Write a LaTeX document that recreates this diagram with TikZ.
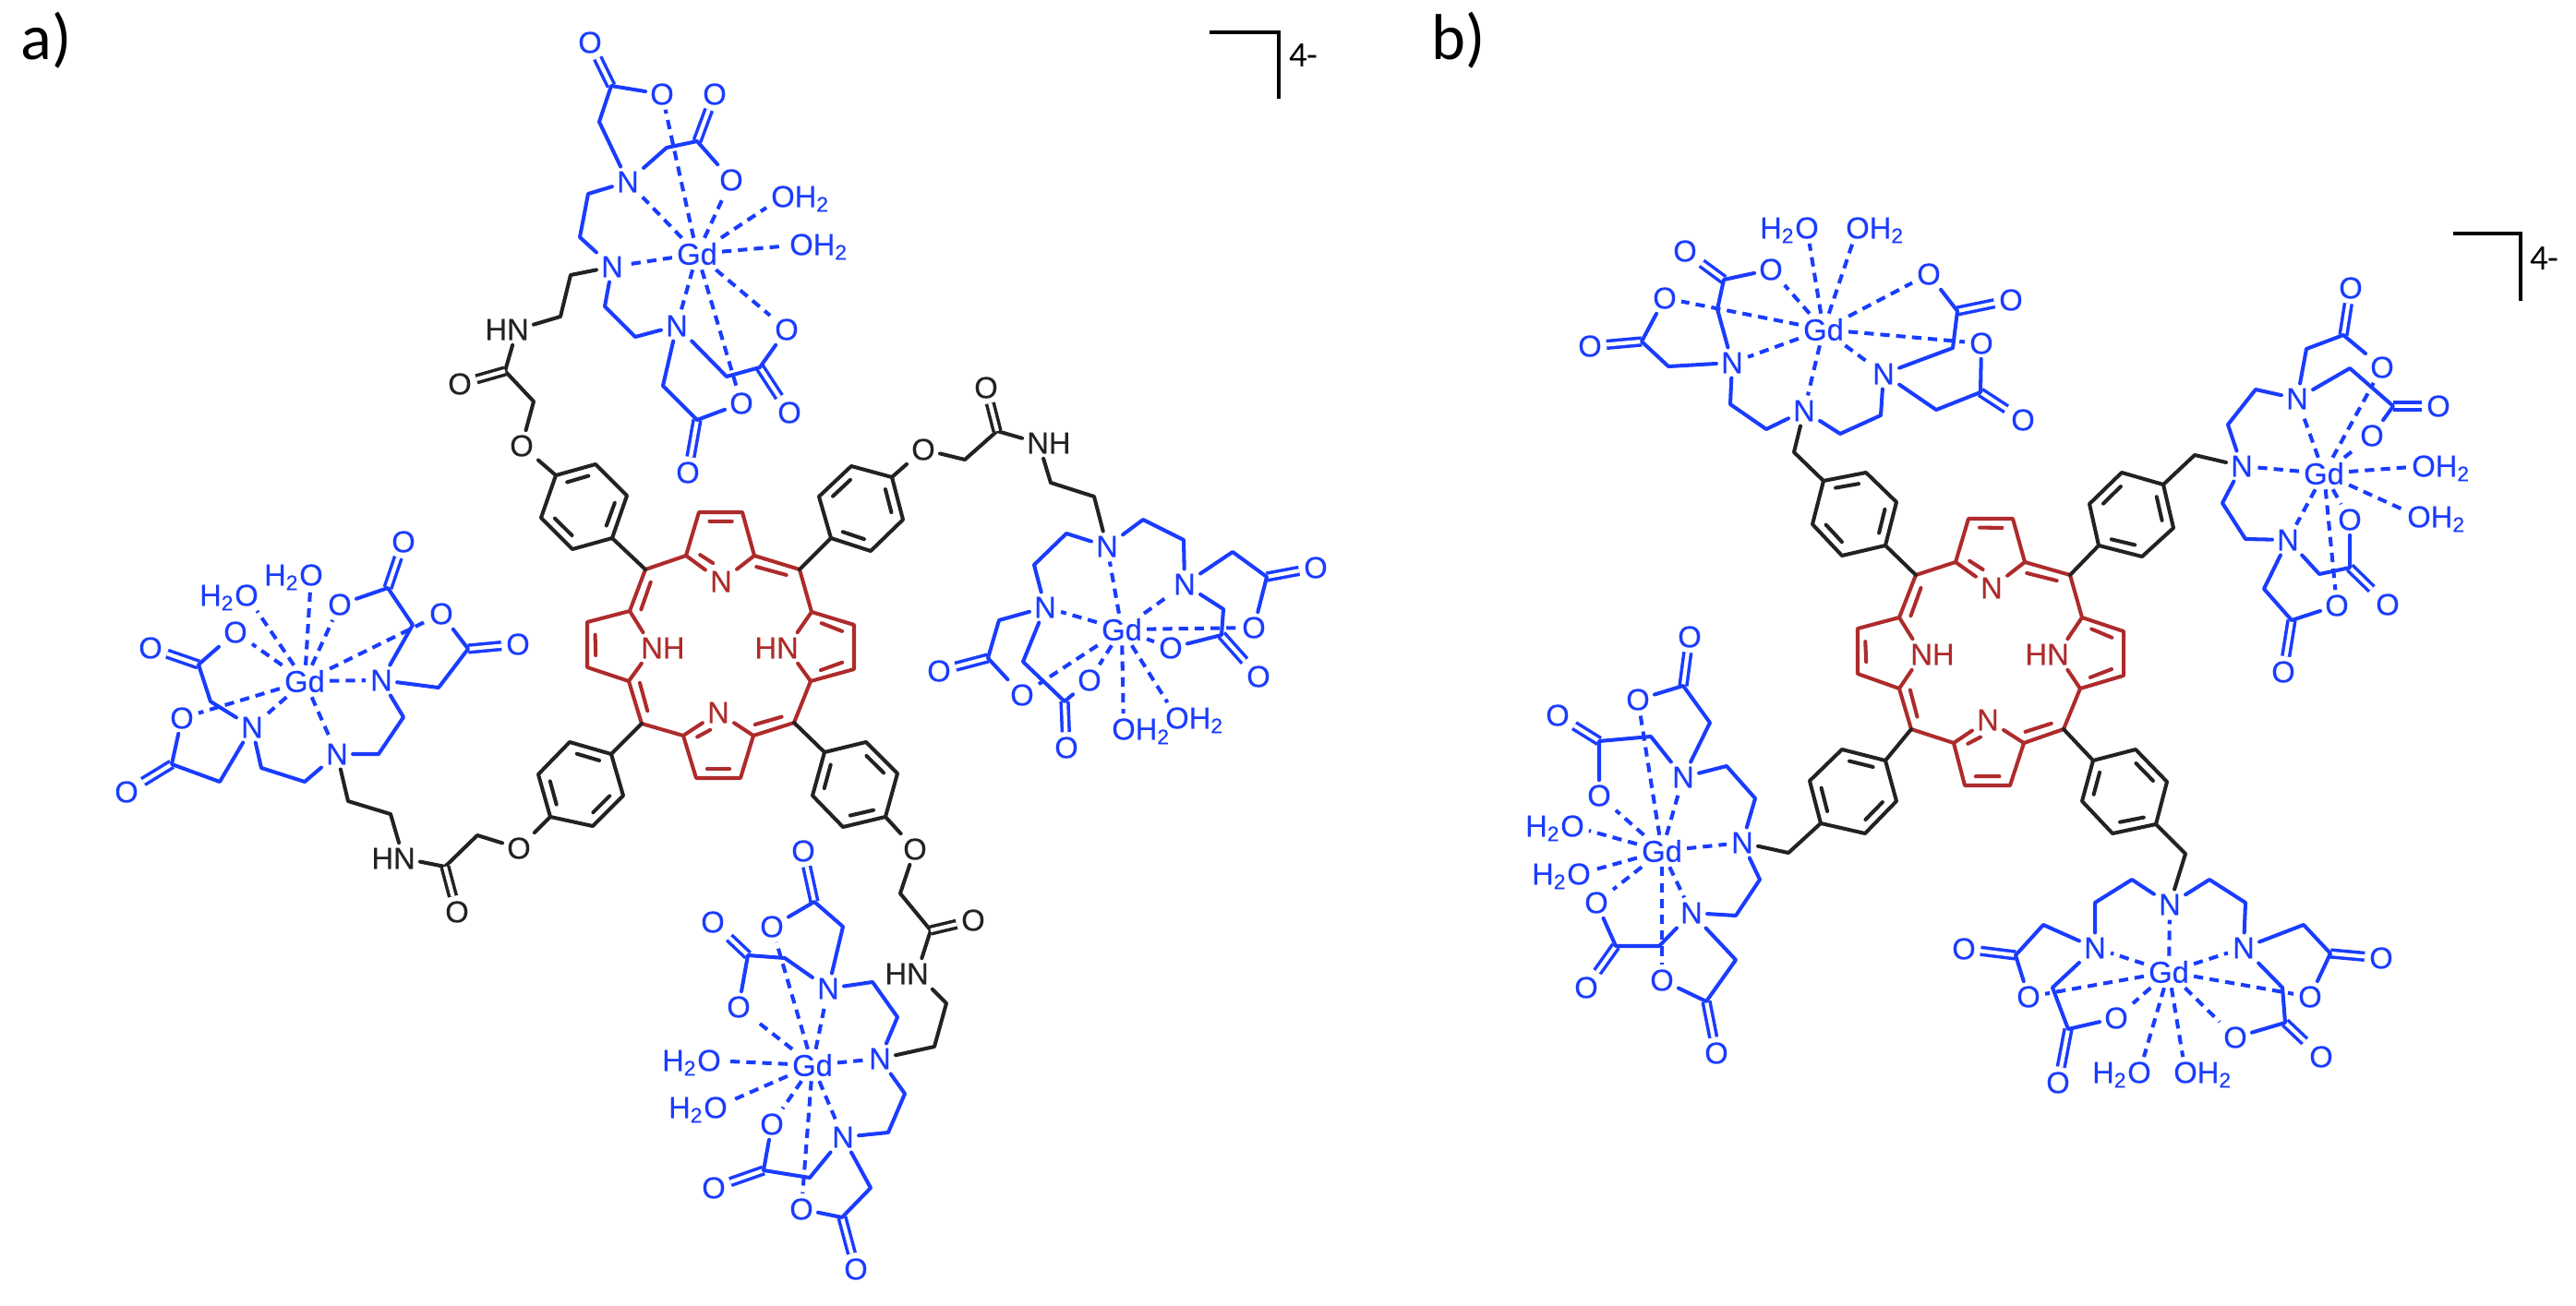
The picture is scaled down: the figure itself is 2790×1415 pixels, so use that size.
\documentclass[tikz,border=0pt]{standalone}
\usepackage{fontspec}
\setmainfont{Liberation Sans}
\newfontfamily\labfont{Carlito}
\newfontfamily\atomfont[RawFeature={embolden=0.4}]{Liberation Sans}
\usetikzlibrary{calc}
\definecolor{bl}{HTML}{1A3CFF}
\definecolor{rd}{HTML}{AE2B2B}
\definecolor{kk}{HTML}{222222}
\colorlet{cur}{bl}
\tikzset{
  atom/.style={inner sep=1.3pt,text=cur,font=\atomfont\fontsize{9.3pt}{10pt}\selectfont},
  bond/.style={draw=cur,line width=1.15pt,line join=round,line cap=round},
  dbl/.style={draw=cur,line width=1pt,double=white,double distance=1.2pt},
  dsh/.style={draw=cur,line width=1.15pt,dash pattern=on 2.9pt off 2pt},
  lab/.style={inner sep=0pt,text=black,font=\labfont\fontsize{20pt}{22pt}\selectfont},
  chg/.style={inner sep=0pt,text=black,font=\labfont\fontsize{11pt}{12pt}\selectfont},
  brk/.style={draw=black,line width=.9pt,line join=miter}
}
\newcommand\mAt[3]{\node[atom] (#1) at (#2) {#3};}
\newcommand\mRt[3]{\node[atom] (#1) at (#2) {\phantom{O}};\node[atom,anchor=base west] (#1t) at (#1.base west) {#3};}
\newcommand\mLt[3]{\node[atom] (#1) at (#2) {\phantom{O}};\node[atom,anchor=base east] (#1t) at (#1.base east) {#3};}
\newcommand\mWR[2]{\mRt{#1}{#2}{OH\textsubscript{2}}}
\newcommand\mWL[2]{\mLt{#1}{#2}{H\textsubscript{2}O}}
\newcommand\mBr[5]{\coordinate (#1a) at (#3);\coordinate (#1b) at (#4);\draw[bond] (#2)--(#1a)--(#1b)--(#5);}
\newcommand\mArm[7]{\coordinate (#1a) at (#4);\coordinate (#1c) at (#5);\node[atom] (#1o) at (#6) {O};\node[atom] (#1e) at (#7) {O};\draw[dbl] (#1c)--(#1o);\draw[bond] (#2)--(#1a)--(#1c)--(#1e);\draw[dsh] (#3)--(#1e);}
\newcommand\mDash[2]{\foreach \t in {#2}{\draw[dsh] (#1)--(\t);}}
\newcommand\mInner[4][.14]{\draw[bond] ($(#2)!.14!(#3)!.11cm!(#4)$)--($(#3)!#1!(#2)!.11cm!(#4)$);}
\newcommand\mRing[7]{\coordinate (#11) at (#2);\coordinate (#12) at (#3);\coordinate (#13) at (#4);\coordinate (#14) at (#5);\coordinate (#15) at (#6);\coordinate (#16) at (#7);\coordinate (#1c) at ($(#11)!.5!(#14)$);
 \draw[bond] (#11)--(#12)--(#13)--(#14)--(#15)--(#16)--cycle;\mInner{#11}{#12}{#1c}\mInner{#13}{#14}{#1c}\mInner{#15}{#16}{#1c}}
\newcommand\mPorphyrin[1]{%
 \draw[bond] (#1mTL)--(#1aTL)--(#1bT1)--(#1bT2)--(#1aTR)--(#1mTR)--(#1aRT)--(#1bR1)--(#1bR2)--(#1aRB)--(#1mBR)--(#1aBR)--(#1bB1)--(#1bB2)--(#1aBL)--(#1mBL)--(#1aLB)--(#1bL1)--(#1bL2)--(#1aLT)--cycle;
 \draw[bond] (#1aTL)--(#1nT)--(#1aTR);\draw[bond] (#1aRT)--(#1nR)--(#1aRB);\draw[bond] (#1aBR)--(#1nB)--(#1aBL);\draw[bond] (#1aLB)--(#1nL)--(#1aLT);
 \mInner{#1mTL}{#1aLT}{#1cc}\mInner[.35]{#1aTL}{#1nT}{#1pT}\mInner{#1bT1}{#1bT2}{#1pT}\mInner{#1aTR}{#1mTR}{#1cc}\mInner{#1aRT}{#1bR1}{#1pR}\mInner{#1bR2}{#1aRB}{#1pR}\mInner{#1mBR}{#1aBR}{#1cc}\mInner[.35]{#1aBL}{#1nB}{#1pB}\mInner{#1bB1}{#1bB2}{#1pB}\mInner{#1aLB}{#1mBL}{#1cc}\mInner{#1bL1}{#1bL2}{#1pL}}
\begin{document}
\begin{tikzpicture}[x=0.01cm,y=-0.01cm]
\path[fill=white] (0,0) rectangle (2790,1415);
\useasboundingbox (0,0) rectangle (2790,1415);
% labels
\node[lab] (la) at (50,44) {a)};
\node[lab] (lb) at (1580,44) {b)};
\coordinate (br1) at (1310,35);\coordinate (br2) at (1385,35);\coordinate (br3) at (1385,107);
\draw[brk] (br1)--(br2)--(br3);
\node[chg] (qa) at (1412,60) {4-};
\coordinate (bs1) at (2657,253);\coordinate (bs2) at (2730,253);\coordinate (bs3) at (2730,326);
\draw[brk] (bs1)--(bs2)--(bs3);
\node[chg] (qb) at (2756,280) {4-};
% ---------- a) porphyrin
\colorlet{cur}{rd}
\foreach \n/\p in {mTL/{699,617},aTL/{743,602},bT1/{757,555},bT2/{804,555},aTR/{817,602},mTR/{866,617},aRT/{879,663},bR1/{925,677},bR2/{925,725},aRB/{878,738},mBR/{860,783},aBR/{816,797},bB1/{802,843},bB2/{754,843},aBL/{740,797},mBL/{695,784},aLB/{681,738},bL1/{636,723},bL2/{636,674},aLT/{682,662},cc/{780,700},pT/{781,590},pB/{778,810},pL/{660,700},pR/{900,700}}{\coordinate (A\n) at (\p);}
\mAt{AnT}{781,630}{N}
\mAt{AnB}{778,772}{N}
\mRt{AnL}{707,702}{NH}
\mLt{AnR}{852,702}{HN}
\mPorphyrin{A}
% ---------- b) porphyrin
\foreach \n/\p in {mTL/{2075,623},aTL/{2118,609},bT1/{2132,562},bT2/{2180,562},aTR/{2193,609},mTR/{2242,623},aRT/{2255,669},bR1/{2300,684},bR2/{2300,732},aRB/{2253,746},mBR/{2235,790},aBR/{2192,805},bB1/{2177,851},bB2/{2128,851},aBL/{2116,805},mBL/{2070,790},aLB/{2057,746},bL1/{2012,730},bL2/{2012,681},aLT/{2057,669},cc/{2155,708},pT/{2157,595},pB/{2153,815},pL/{2035,708},pR/{2275,708}}{\coordinate (B\n) at (\p);}
\mAt{BnT}{2157,637}{N}
\mAt{BnB}{2153,780}{N}
\mRt{BnL}{2082,709}{NH}
\mLt{BnR}{2228,709}{HN}
\mPorphyrin{B}
% ---------- black parts
\colorlet{cur}{kk}
\mRing{ra}{602,515}{645,503}{679,537}{663,583}{620,595}{586,561}
\mRing{rb}{887,538}{922,505}{966,517}{978,563}{943,597}{900,583}
\mRing{rc}{617,804}{662,817}{675,862}{642,895}{596,885}{583,839}
\mRing{rd}{938,804}{972,838}{959,885}{913,896}{880,862}{893,815}
\draw[bond] (ra4)--(AmTL);\draw[bond] (rb6)--(AmTR);\draw[bond] (rc2)--(AmBL);\draw[bond] (rd6)--(AmBR);
\mRing{sa}{1975,521}{2021,512}{2054,544}{2042,591}{1995,602}{1963,568}
\mRing{sb}{2263,546}{2298,512}{2343,525}{2354,572}{2320,603}{2273,591}
\mRing{sc}{1995,812}{2042,824}{2054,868}{2020,903}{1972,892}{1960,846}
\mRing{sd}{2313,812}{2347,847}{2335,893}{2288,903}{2255,868}{2267,824}
\draw[bond] (sa4)--(BmTL);\draw[bond] (sb6)--(BmTR);\draw[bond] (sc2)--(BmBL);\draw[bond] (sd6)--(BmBR);
% a) linkers
\mAt{kaO}{565,483}{O}\mAt{kaD}{498,416}{O}\mLt{kaN}{560,357}{HN}
\coordinate (kaa) at (578,435);\coordinate (kac) at (547,402);\coordinate (kad) at (607,343);\coordinate (kae) at (618,298);
\mAt{kbO}{1000,487}{O}\mAt{kbD}{1068,420}{O}\mRt{kbN}{1125,480}{NH}
\coordinate (kba) at (1045,498);\coordinate (kbc) at (1080,467);\coordinate (kbd) at (1138,523);\coordinate (kbe) at (1185,538);
\mAt{kcO}{562,919}{O}\mAt{kcD}{495,988}{O}\mLt{kcN}{437,930}{HN}
\coordinate (kca) at (517,905);\coordinate (kcc) at (482,939);\coordinate (kcd) at (423,882);\coordinate (kce) at (377,868);
\mAt{kdO}{991,920}{O}\mAt{kdD}{1054,997}{O}\mLt{kdN}{993,1055}{HN}
\coordinate (kda) at (975,968);\coordinate (kdc) at (1008,1008);\coordinate (kdd) at (1025,1087);\coordinate (kde) at (1012,1134);
% b) linkers
\coordinate (mea) at (1943,490);\coordinate (meb) at (2377,493);\coordinate (mec) at (1937,924);\coordinate (med) at (2367,925);
% ---------- blue: a) top
\colorlet{cur}{bl}
\mAt{tg}{755,275}{Gd}\mAt{tn1}{680,197}{N}\mAt{tn2}{663,289}{N}\mAt{tn3}{733,353}{N}
\mBr{tb1}{tn1}{637,210}{628,257}{tn2}
\mBr{tb2}{tn2}{655,332}{688,365}{tn3}
\mArm{tp}{tn1}{tg}{649,132}{662,93}{639,46}{717,102}
\mArm{tq}{tn1}{tg}{722,160}{755,153}{774,102}{792,195}
\mArm{tr}{tn3}{tg}{718,418}{755,455}{745,512}{803,437}
\mArm{ts}{tn3}{tg}{787,408}{823,398}{855,447}{852,357}
\mWR{tw}{848,213}\mWR{tx}{868,265}
\mDash{tg}{tn1,tn2,tn3,tw,tx}
% a) left
\mAt{lg}{330,738}{Gd}\mAt{ln1}{413,737}{N}\mAt{ln2}{365,817}{N}\mAt{ln3}{273,788}{N}
\mBr{lb1}{ln1}{437,777}{410,817}{ln2}
\mBr{lb2}{ln2}{330,847}{283,832}{ln3}
\mArm{lp}{ln1}{lg}{475,745}{507,703}{561,698}{478,665}
\mArm{lq}{ln1}{lg}{447,677}{420,637}{437,587}{368,655}
\mArm{lr}{ln3}{lg}{238,847}{186,828}{137,858}{197,778}
\mArm{ls}{ln3}{lg}{228,760}{215,720}{163,702}{255,685}
\mWL{lw}{267,645}\mWL{lx}{337,623}
\mDash{lg}{ln1,ln2,ln3,lw,lx}
% a) right
\mAt{hg}{1215,682}{Gd}\mAt{hn1}{1199,592}{N}\mAt{hn2}{1132,658}{N}\mAt{hn3}{1283,633}{N}
\mBr{hb1}{hn1}{1155,578}{1120,612}{hn2}
\mBr{hb2}{hn1}{1238,563}{1282,585}{hn3}
\mArm{hp}{hn3}{hg}{1335,598}{1372,625}{1425,615}{1358,680}
\mArm{hq}{hn3}{hg}{1325,660}{1323,688}{1363,733}{1268,702}
\mArm{hr}{hn2}{hg}{1082,672}{1070,713}{1017,727}{1107,753}
\mArm{hs}{hn2}{hg}{1108,717}{1153,760}{1155,810}{1180,737}
\mWR{hw}{1217,790}\mWR{hx}{1275,778}
\mDash{hg}{hn1,hn2,hn3,hw,hx}
% a) bottom
\mAt{dg}{880,1154}{Gd}\mAt{dn1}{897,1071}{N}\mAt{dn2}{953,1147}{N}\mAt{dn3}{913,1232}{N}
\mBr{db1}{dn1}{945,1064}{972,1102}{dn2}
\mBr{db2}{dn2}{980,1185}{962,1227}{dn3}
\mArm{dp}{dn1}{dg}{913,1004}{882,977}{870,922}{836,1004}
\mArm{dq}{dn1}{dg}{850,1038}{810,1035}{772,999}{800,1091}
\mArm{dr}{dn3}{dg}{943,1287}{912,1319}{927,1375}{868,1310}
\mArm{ds}{dn3}{dg}{877,1276}{827,1268}{773,1287}{836,1218}
\mWL{dw}{768,1149}\mWL{dx}{775,1200}
\mDash{dg}{dn1,dn2,dn3,dw,dx}
% b) top
\mAt{eg}{1975,357}{Gd}\mAt{en1}{1876,393}{N}\mAt{en2}{1954,445}{N}\mAt{en3}{2040,405}{N}
\mBr{eb1}{en1}{1874,438}{1913,465}{en2}
\mBr{eb2}{en2}{1993,470}{2037,450}{en3}
\mArm{ep}{en1}{eg}{1807,397}{1778,370}{1722,375}{1803,323}
\mArm{eq}{en1}{eg}{1860,335}{1867,303}{1825,272}{1918,292}
\mArm{er}{en3}{eg}{2097,444}{2145,425}{2191,455}{2146,372}
\mArm{es}{en3}{eg}{2115,377}{2120,337}{2178,325}{2089,297}
\mWL{ew}{1957,247}\mWR{ex}{2012,247}
\mDash{eg}{en1,en2,en3,ew,ex}
% b) right
\mAt{fg}{2517,513}{Gd}\mAt{fn1}{2488,432}{N}\mAt{fn2}{2428,505}{N}\mAt{fn3}{2478,585}{N}
\mBr{fb1}{fn1}{2443,422}{2413,460}{fn2}
\mBr{fb2}{fn2}{2407,545}{2432,584}{fn3}
\mArm{fp}{fn1}{fg}{2498,378}{2538,363}{2546,312}{2580,398}
\mArm{fq}{fn1}{fg}{2545,399}{2592,440}{2641,440}{2569,472}
\mArm{fr}{fn3}{fg}{2452,638}{2482,672}{2473,728}{2531,656}
\mArm{fs}{fn3}{fg}{2512,622}{2545,615}{2586,655}{2545,563}
\mWR{fw}{2625,505}\mWR{fx}{2620,560}
\mDash{fg}{fn1,fn2,fn3,fw,fx}
% b) left
\mAt{gg}{1800,922}{Gd}\mAt{gn1}{1823,842}{N}\mAt{gn2}{1887,913}{N}\mAt{gn3}{1832,989}{N}
\mBr{gb1}{gn1}{1870,830}{1901,865}{gn2}
\mBr{gb2}{gn2}{1906,953}{1880,992}{gn3}
\mArm{gp}{gn1}{gg}{1852,783}{1823,743}{1830,690}{1774,758}
\mArm{gq}{gn1}{gg}{1788,798}{1732,803}{1687,775}{1732,862}
\mArm{gr}{gn3}{gg}{1880,1040}{1848,1085}{1859,1141}{1800,1062}
\mArm{gs}{gn3}{gg}{1797,1025}{1750,1025}{1718,1070}{1729,978}
\mWL{gw}{1703,895}\mWL{gx}{1710,947}
\mDash{gg}{gn1,gn2,gn3,gw,gx}
% b) bottom
\mAt{ig}{2349,1053}{Gd}\mAt{in1}{2350,980}{N}\mAt{in2}{2269,1027}{N}\mAt{in3}{2430,1027}{N}
\mBr{ib1}{in1}{2309,953}{2269,978}{in2}
\mBr{ib2}{in1}{2393,953}{2432,978}{in3}
\mArm{ip}{in2}{ig}{2213,1002}{2183,1035}{2127,1028}{2197,1080}
\mArm{iq}{in2}{ig}{2223,1070}{2240,1115}{2229,1173}{2292,1103}
\mArm{ir}{in3}{ig}{2495,1002}{2524,1033}{2579,1038}{2502,1080}
\mArm{is}{in3}{ig}{2472,1070}{2475,1108}{2514,1145}{2421,1124}
\mWL{iw}{2317,1162}\mWR{ix}{2367,1162}
\mDash{ig}{in1,in2,in3,iw,ix}
% ---------- black linker bonds (to blue N atoms)
\colorlet{cur}{kk}
\draw[bond] (ra1)--(kaO)--(kaa)--(kac)--(kaN)--(kad)--(kae)--(tn2);
\draw[dbl] (kac)--(kaD);
\draw[bond] (rb3)--(kbO)--(kba)--(kbc)--(kbN)--(kbd)--(kbe)--(hn1);
\draw[dbl] (kbc)--(kbD);
\draw[bond] (rc5)--(kcO)--(kca)--(kcc)--(kcN)--(kcd)--(kce)--(ln2);
\draw[dbl] (kcc)--(kcD);
\draw[bond] (rd3)--(kdO)--(kda)--(kdc)--(kdN)--(kdd)--(kde)--(dn2);
\draw[dbl] (kdc)--(kdD);
\draw[bond] (sa1)--(mea)--(en2);
\draw[bond] (sb3)--(meb)--(fn2);
\draw[bond] (sc5)--(mec)--(gn2);
\draw[bond] (sd3)--(med)--(in1);
\end{tikzpicture}
\end{document}
